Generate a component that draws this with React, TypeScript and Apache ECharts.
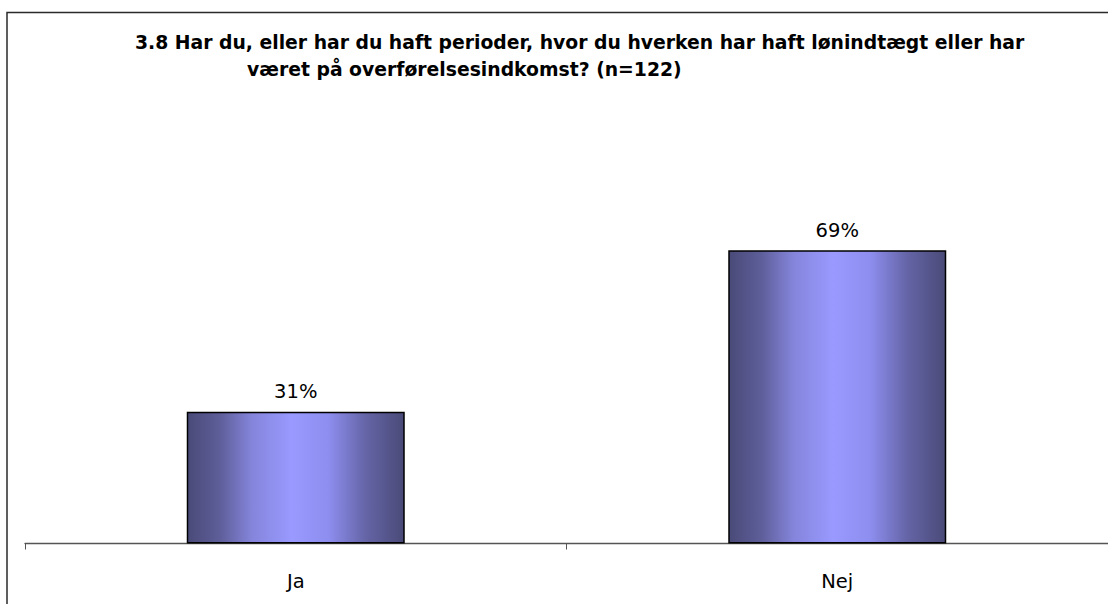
import React, { useEffect, useRef } from "react";
import * as echarts from "echarts";

const titleLine1 = "3.8 Har du, eller har du haft perioder, hvor du hverken har haft lønindtægt eller har";
const titleLine2 = "været på overførelsesindkomst? (n=122)";
const categories = ["Ja", "Nej"];
const values = [31, 69];

export default function App() {
  const ref = useRef<HTMLDivElement>(null);
  useEffect(() => {
    if (!ref.current) return;
    const chart = echarts.init(ref.current, null, { renderer: "svg" });
    const grad = new echarts.graphic.LinearGradient(0, 0, 1, 0, [
      { offset: 0, color: "#4a4a78" },
      { offset: 0.15, color: "#5e5e9a" },
      { offset: 0.3, color: "#8585dc" },
      { offset: 0.48, color: "#9999ff" },
      { offset: 0.65, color: "#8e8ef0" },
      { offset: 0.82, color: "#6565a8" },
      { offset: 1, color: "#4a4a78" },
    ]);
    const titleStyle = {
      fontFamily: "DejaVu Sans, Verdana, sans-serif",
      fontWeight: "bold",
      fontSize: 18.8,
      color: "#000",
    };
    chart.setOption({
      animation: false,
      backgroundColor: "#ffffff",
      title: [
        { text: titleLine1, left: 135, top: 33, padding: 0, textStyle: titleStyle },
        { text: titleLine2, left: 247, top: 60, padding: 0, textStyle: titleStyle },
      ],
      graphic: [
        {
          type: "rect",
          shape: { x: 7, y: 12.5, width: 1300, height: 800 },
          style: { fill: "none", stroke: "#2a2a2a", lineWidth: 1.5 },
          silent: true,
        },
      ],
      grid: { left: 25, right: 0, top: 118.5, bottom: 60.5, containLabel: false },
      xAxis: {
        type: "category",
        data: categories,
        axisLine: { lineStyle: { color: "#555", width: 1.3 } },
        axisTick: { show: true, length: 6, lineStyle: { color: "#555" } },
        axisLabel: { color: "#000", fontSize: 19.5, fontFamily: "DejaVu Sans, Verdana, sans-serif", margin: 28 },
      },
      yAxis: {
        type: "value",
        min: 0,
        max: 100,
        show: false,
        splitLine: { show: false },
      },
      series: [
        {
          type: "bar",
          data: values,
          barWidth: 218,
          itemStyle: { color: grad, borderColor: "#000", borderWidth: 1.5 },
          label: {
            show: true,
            position: "top",
            distance: 10,
            formatter: (p: any) => p.value + "%",
            color: "#000",
            fontSize: 19.5,
            fontFamily: "DejaVu Sans, Verdana, sans-serif",
          },
        },
      ],
    });
    return () => chart.dispose();
  }, []);
  return <div ref={ref} style={{ position: "fixed", left: 0, top: 0, width: 1108, height: 604 }} />;
}
